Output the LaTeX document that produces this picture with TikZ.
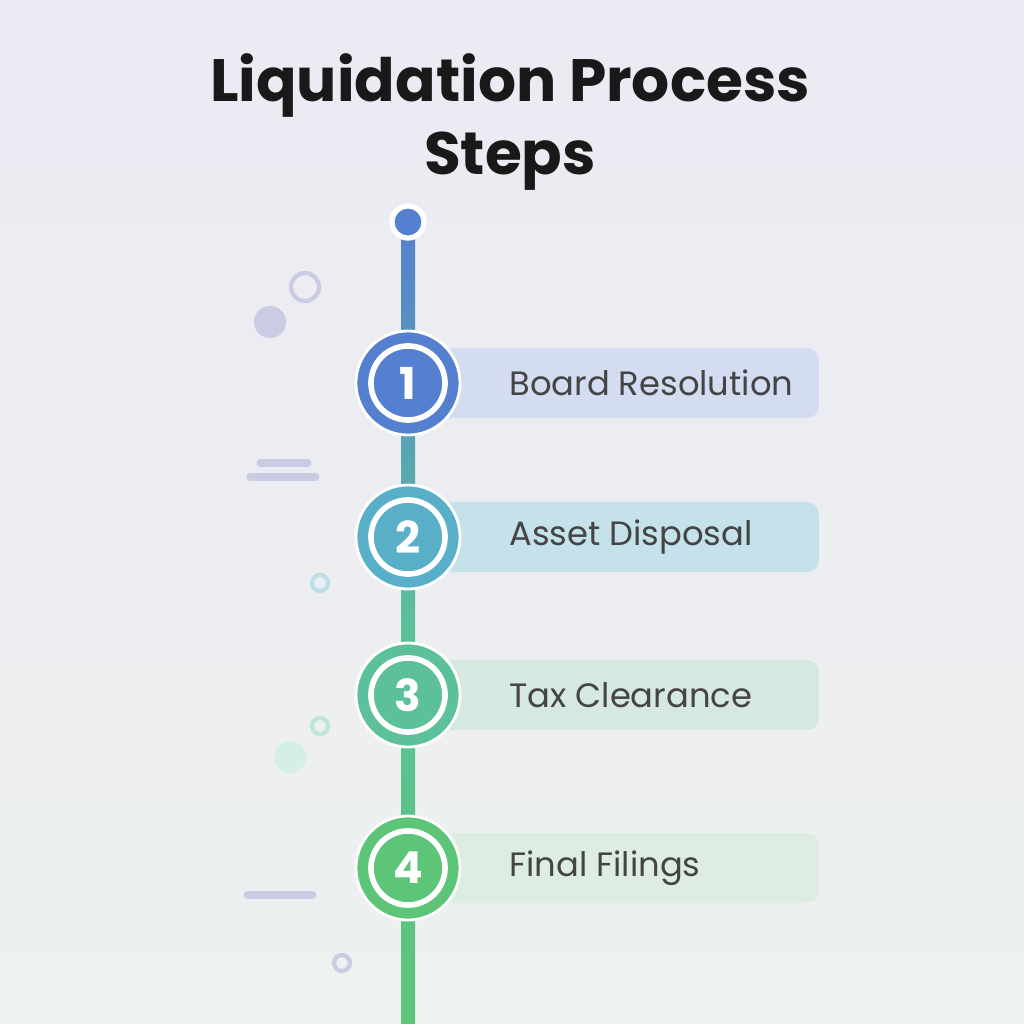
\documentclass[tikz,border=0pt]{standalone}
\usepackage{fontspec}
\setmainfont{Poppins}
\usetikzlibrary{positioning}
\definecolor{bgtop}{HTML}{ECEAF3}
\definecolor{bgbot}{HTML}{EDF1F0}
\definecolor{cone}{HTML}{5580D0}
\definecolor{ctwo}{HTML}{5AAFC8}
\definecolor{cthree}{HTML}{5CC09A}
\definecolor{cfour}{HTML}{5CC578}
\definecolor{bone}{HTML}{D3DCF0}
\definecolor{btwo}{HTML}{C5E1EA}
\definecolor{bthree}{HTML}{D5E9E1}
\definecolor{bfour}{HTML}{DDEDE2}
\definecolor{txt}{HTML}{444444}
\definecolor{deco}{HTML}{C9CCE3}
\tikzset{
  stepdisc/.style={circle,minimum size=1.04cm,inner sep=0pt,draw=white,line width=0.8pt},
  ringnum/.style={circle,minimum size=0.74cm,inner sep=0pt,draw=white,line width=1.6pt,
    text=white,font=\fontsize{12.5}{15}\selectfont\bfseries},
  labelbox/.style={rounded corners=0.12cm,minimum width=3.98cm,minimum height=0.7cm,
    anchor=west,inner sep=0pt},
  steptext/.style={anchor=west,text=txt,font=\fontsize{9.6}{12}\selectfont},
  decoring/.style={draw=deco,line width=1.2pt},
}
\begin{document}
\begin{tikzpicture}[x=0.01cm,y=-0.01cm]
  \useasboundingbox (0,0) rectangle (1024,1024);
  % background
  \shade[top color=bgtop,bottom color=bgbot] (0,0) rectangle (1024,1024);
  % title
  \node[font=\fontsize{17}{21}\selectfont\bfseries,align=center,text=black!90] (title)
    at (510,122) {Liquidation Process\\Steps};
  % decorations
  \draw[decoring] (305,287) circle (14);
  \fill[deco] (270,322) circle (16);
  \draw[deco,line width=2pt,line cap=round] (260,463) -- (308,463);
  \draw[deco,line width=2pt,line cap=round] (250,477) -- (316,477);
  \draw[decoring,draw=ctwo!40] (320,583) circle (8);
  \draw[decoring,draw=cthree!40] (320,726) circle (8);
  \fill[cthree!25] (290,757) circle (16);
  \draw[deco,line width=2pt,line cap=round] (247,895) -- (313,895);
  \draw[decoring] (342,963) circle (8);
  % timeline
  \shade[top color=cone,bottom color=cfour,middle color=cthree] (401,222) rectangle (415,1024);
  \node[circle,fill=cone,draw=white,line width=1.5pt,minimum size=0.32cm,inner sep=0pt]
    (start) at (408,222) {};
  % label boxes
  \foreach \y/\bc/\name in {383/bone/Board Resolution, 537/btwo/Asset Disposal,
      695/bthree/Tax Clearance, 868/bfour/Final Filings}{
    \node[labelbox,fill=\bc] (box\y) at (420,\y) {};
    \node[steptext] (lbl\y) at (497,\y) {\name};
  }
  % step discs
  \foreach \y/\c/\n in {383/cone/1, 537/ctwo/2, 695/cthree/3, 868/cfour/4}{
    \node[stepdisc,fill=\c] (disc\n) at (408,\y) {};
    \node[ringnum] (num\n) at (disc\n) {\n};
  }
\end{tikzpicture}
\end{document}
